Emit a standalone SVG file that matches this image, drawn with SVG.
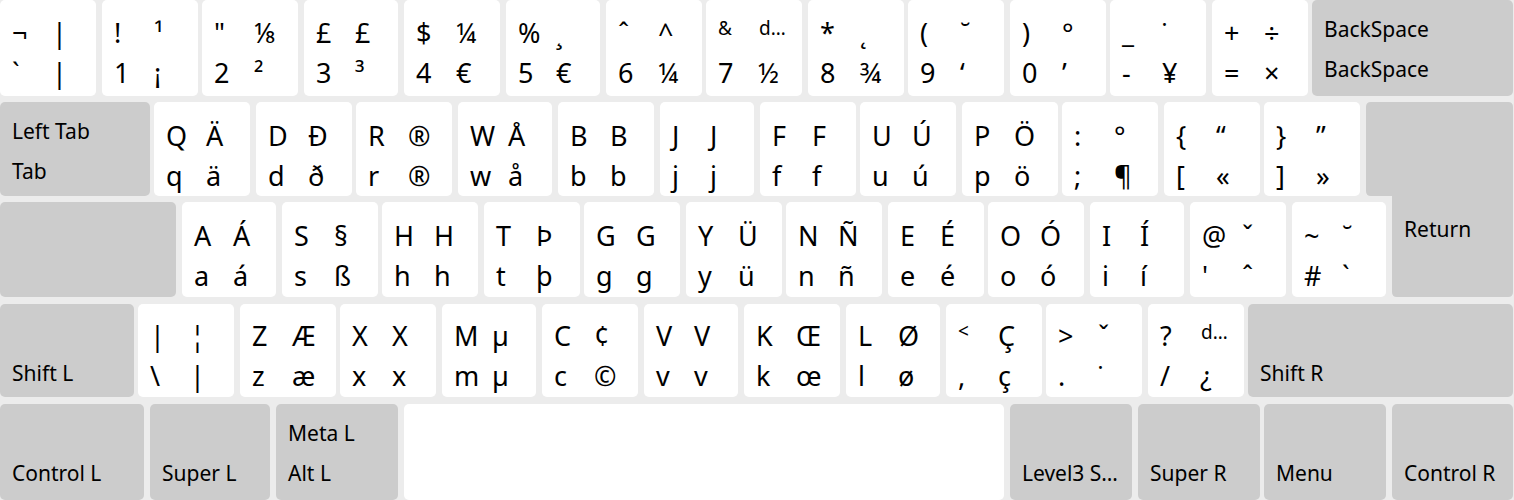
<svg xmlns="http://www.w3.org/2000/svg" width="1514" height="500" viewBox="0 0 1514 500">
<style>
.bg{fill:#ececec}
.k{fill:#ffffff}
.m{fill:#cccccc}
text{font-family:"Noto Sans","DejaVu Sans",sans-serif;fill:#000}
.t{font-size:27px}
.l{font-size:21px}
.s{font-size:19px}
</style>
<rect class="bg" x="0" y="0" width="1514" height="500"/>
<!-- Row 1 -->
<g id="k-grave"><rect class="k" x="0" y="0" width="96" height="96" rx="5"/><text class="t" x="12" y="43">¬</text><text class="t" x="52" y="43">|</text><text class="t" x="12" y="83">`</text><text class="t" x="52" y="83">|</text></g>
<g id="k-1"><rect class="k" x="102" y="0" width="96" height="96" rx="5"/><text class="t" x="114" y="43">!</text><text class="t" x="154" y="43">¹</text><text class="t" x="114" y="83">1</text><text class="t" x="154" y="83">¡</text></g>
<g id="k-2"><rect class="k" x="202" y="0" width="96" height="96" rx="5"/><text class="t" x="214" y="43">"</text><text class="t" x="254" y="43">⅛</text><text class="t" x="214" y="83">2</text><text class="t" x="254" y="83">²</text></g>
<g id="k-3"><rect class="k" x="304" y="0" width="94" height="96" rx="5"/><text class="t" x="316" y="43">£</text><text class="t" x="355" y="43">£</text><text class="t" x="316" y="83">3</text><text class="t" x="355" y="83">³</text></g>
<g id="k-4"><rect class="k" x="404" y="0" width="96" height="96" rx="5"/><text class="t" x="416" y="43">$</text><text class="t" x="456" y="43">¼</text><text class="t" x="416" y="83">4</text><text class="t" x="456" y="83">€</text></g>
<g id="k-5"><rect class="k" x="506" y="0" width="94" height="96" rx="5"/><text class="t" x="518" y="43">%</text><text class="t" x="556" y="43">¸</text><text class="t" x="518" y="83">5</text><text class="t" x="556" y="83">€</text></g>
<g id="k-6"><rect class="k" x="606" y="0" width="96" height="96" rx="5"/><text class="t" x="618" y="43">ˆ</text><text class="t" x="658" y="43">^</text><text class="t" x="618" y="83">6</text><text class="t" x="658" y="83">¼</text></g>
<g id="k-7"><rect class="k" x="706" y="0" width="96" height="96" rx="5"/><text class="s" x="718" y="35">&amp;</text><text class="s" x="759" y="35">d…</text><text class="t" x="718" y="83">7</text><text class="t" x="758" y="83">½</text></g>
<g id="k-8"><rect class="k" x="808" y="0" width="96" height="96" rx="5"/><text class="t" x="820" y="43">*</text><text class="t" x="860" y="43">˛</text><text class="t" x="820" y="83">8</text><text class="t" x="860" y="83">¾</text></g>
<g id="k-9"><rect class="k" x="908" y="0" width="96" height="96" rx="5"/><text class="t" x="920" y="43">(</text><text class="t" x="960" y="43">˘</text><text class="t" x="920" y="83">9</text><text class="t" x="960" y="83">‘</text></g>
<g id="k-0"><rect class="k" x="1010" y="0" width="96" height="96" rx="5"/><text class="t" x="1022" y="43">)</text><text class="t" x="1062" y="43">°</text><text class="t" x="1022" y="83">0</text><text class="t" x="1062" y="83">’</text></g>
<g id="k-minus"><rect class="k" x="1110" y="0" width="96" height="96" rx="5"/><text class="t" x="1122" y="43">_</text><text class="t" x="1162" y="43">˙</text><text class="t" x="1122" y="83">-</text><text class="t" x="1162" y="83">¥</text></g>
<g id="k-equal"><rect class="k" x="1212" y="0" width="96" height="96" rx="5"/><text class="t" x="1224" y="43">+</text><text class="t" x="1264" y="43">÷</text><text class="t" x="1224" y="83">=</text><text class="t" x="1264" y="83">×</text></g>
<g id="k-backspace"><rect class="m" x="1312" y="0" width="201" height="96" rx="5"/><text class="l" x="1324" y="37">BackSpace</text><text class="l" x="1324" y="77">BackSpace</text></g>
<!-- Row 2 -->
<g id="k-tab"><rect class="m" x="0" y="102" width="150" height="94" rx="5"/><text class="l" x="12" y="139">Left Tab</text><text class="l" x="12" y="179">Tab</text></g>
<g id="k-q"><rect class="k" x="154" y="102" width="96" height="94" rx="5"/><text class="t" x="166" y="146">Q</text><text class="t" x="206" y="146">Ä</text><text class="t" x="166" y="186">q</text><text class="t" x="206" y="186">ä</text></g>
<g id="k-w"><rect class="k" x="256" y="102" width="96" height="94" rx="5"/><text class="t" x="268" y="146">D</text><text class="t" x="308" y="146">Ð</text><text class="t" x="268" y="186">d</text><text class="t" x="308" y="186">ð</text></g>
<g id="k-e"><rect class="k" x="356" y="102" width="96" height="94" rx="5"/><text class="t" x="368" y="146">R</text><text class="t" x="408" y="146">®</text><text class="t" x="368" y="186">r</text><text class="t" x="408" y="186">®</text></g>
<g id="k-r"><rect class="k" x="458" y="102" width="94" height="94" rx="5"/><text class="t" x="470" y="146">W</text><text class="t" x="508" y="146">Å</text><text class="t" x="470" y="186">w</text><text class="t" x="508" y="186">å</text></g>
<g id="k-t"><rect class="k" x="558" y="102" width="96" height="94" rx="5"/><text class="t" x="570" y="146">B</text><text class="t" x="610" y="146">B</text><text class="t" x="570" y="186">b</text><text class="t" x="610" y="186">b</text></g>
<g id="k-y"><rect class="k" x="660" y="102" width="94" height="94" rx="5"/><text class="t" x="672" y="146">J</text><text class="t" x="710" y="146">J</text><text class="t" x="672" y="186">j</text><text class="t" x="710" y="186">j</text></g>
<g id="k-u"><rect class="k" x="760" y="102" width="96" height="94" rx="5"/><text class="t" x="772" y="146">F</text><text class="t" x="812" y="146">F</text><text class="t" x="772" y="186">f</text><text class="t" x="812" y="186">f</text></g>
<g id="k-i"><rect class="k" x="860" y="102" width="96" height="94" rx="5"/><text class="t" x="872" y="146">U</text><text class="t" x="912" y="146">Ú</text><text class="t" x="872" y="186">u</text><text class="t" x="912" y="186">ú</text></g>
<g id="k-o"><rect class="k" x="962" y="102" width="96" height="94" rx="5"/><text class="t" x="974" y="146">P</text><text class="t" x="1014" y="146">Ö</text><text class="t" x="974" y="186">p</text><text class="t" x="1014" y="186">ö</text></g>
<g id="k-p"><rect class="k" x="1062" y="102" width="96" height="94" rx="5"/><text class="t" x="1074" y="146">:</text><text class="t" x="1114" y="146">°</text><text class="t" x="1074" y="186">;</text><text class="t" x="1114" y="186">¶</text></g>
<g id="k-lbracket"><rect class="k" x="1164" y="102" width="96" height="94" rx="5"/><text class="t" x="1176" y="146">{</text><text class="t" x="1216" y="146">“</text><text class="t" x="1176" y="186">[</text><text class="t" x="1216" y="186">«</text></g>
<g id="k-rbracket"><rect class="k" x="1264" y="102" width="96" height="94" rx="5"/><text class="t" x="1276" y="146">}</text><text class="t" x="1316" y="146">”</text><text class="t" x="1276" y="186">]</text><text class="t" x="1316" y="186">»</text></g>
<g id="k-return"><path class="m" d="M1371,102 H1508 Q1513,102 1513,107 V292 Q1513,297 1508,297 H1397 Q1392,297 1392,292 V196 H1371 Q1366,196 1366,191 V107 Q1366,102 1371,102 Z"/><text class="l" x="1404" y="237">Return</text></g>
<!-- Row 3 -->
<g id="k-caps"><rect class="m" x="0" y="202" width="176" height="95" rx="5"/></g>
<g id="k-a"><rect class="k" x="182" y="202" width="94" height="95" rx="5"/><text class="t" x="194" y="246">A</text><text class="t" x="233" y="246">Á</text><text class="t" x="194" y="286">a</text><text class="t" x="233" y="286">á</text></g>
<g id="k-s"><rect class="k" x="282" y="202" width="96" height="95" rx="5"/><text class="t" x="294" y="246">S</text><text class="t" x="334" y="246">§</text><text class="t" x="294" y="286">s</text><text class="t" x="334" y="286">ß</text></g>
<g id="k-d"><rect class="k" x="382" y="202" width="96" height="95" rx="5"/><text class="t" x="394" y="246">H</text><text class="t" x="434" y="246">H</text><text class="t" x="394" y="286">h</text><text class="t" x="434" y="286">h</text></g>
<g id="k-f"><rect class="k" x="484" y="202" width="96" height="95" rx="5"/><text class="t" x="496" y="246">T</text><text class="t" x="536" y="246">Þ</text><text class="t" x="496" y="286">t</text><text class="t" x="536" y="286">þ</text></g>
<g id="k-g"><rect class="k" x="584" y="202" width="96" height="95" rx="5"/><text class="t" x="596" y="246">G</text><text class="t" x="636" y="246">G</text><text class="t" x="596" y="286">g</text><text class="t" x="636" y="286">g</text></g>
<g id="k-h"><rect class="k" x="686" y="202" width="96" height="95" rx="5"/><text class="t" x="698" y="246">Y</text><text class="t" x="738" y="246">Ü</text><text class="t" x="698" y="286">y</text><text class="t" x="738" y="286">ü</text></g>
<g id="k-j"><rect class="k" x="786" y="202" width="96" height="95" rx="5"/><text class="t" x="798" y="246">N</text><text class="t" x="838" y="246">Ñ</text><text class="t" x="798" y="286">n</text><text class="t" x="838" y="286">ñ</text></g>
<g id="k-k"><rect class="k" x="888" y="202" width="96" height="95" rx="5"/><text class="t" x="900" y="246">E</text><text class="t" x="940" y="246">É</text><text class="t" x="900" y="286">e</text><text class="t" x="940" y="286">é</text></g>
<g id="k-l"><rect class="k" x="988" y="202" width="96" height="95" rx="5"/><text class="t" x="1000" y="246">O</text><text class="t" x="1040" y="246">Ó</text><text class="t" x="1000" y="286">o</text><text class="t" x="1040" y="286">ó</text></g>
<g id="k-semicolon"><rect class="k" x="1090" y="202" width="94" height="95" rx="5"/><text class="t" x="1102" y="246">I</text><text class="t" x="1140" y="246">Í</text><text class="t" x="1102" y="286">i</text><text class="t" x="1140" y="286">í</text></g>
<g id="k-apostrophe"><rect class="k" x="1190" y="202" width="96" height="95" rx="5"/><text class="t" x="1202" y="246">@</text><text class="t" x="1242" y="246">ˇ</text><text class="t" x="1202" y="286">'</text><text class="t" x="1242" y="286">ˆ</text></g>
<g id="k-hash"><rect class="k" x="1292" y="202" width="94" height="95" rx="5"/><text class="t" x="1304" y="246">~</text><text class="t" x="1342" y="246">˘</text><text class="t" x="1304" y="286">#</text><text class="t" x="1342" y="286">`</text></g>
<!-- Row 4 -->
<g id="k-lshift"><rect class="m" x="0" y="304" width="134" height="93" rx="5"/><text class="l" x="12" y="381">Shift L</text></g>
<g id="k-lsgt"><rect class="k" x="138" y="304" width="96" height="93" rx="5"/><text class="t" x="150" y="346">|</text><text class="t" x="190" y="346">¦</text><text class="t" x="150" y="386">\</text><text class="t" x="190" y="386">|</text></g>
<g id="k-z"><rect class="k" x="240" y="304" width="96" height="93" rx="5"/><text class="t" x="252" y="346">Z</text><text class="t" x="292" y="346">Æ</text><text class="t" x="252" y="386">z</text><text class="t" x="292" y="386">æ</text></g>
<g id="k-x"><rect class="k" x="340" y="304" width="96" height="93" rx="5"/><text class="t" x="352" y="346">X</text><text class="t" x="392" y="346">X</text><text class="t" x="352" y="386">x</text><text class="t" x="392" y="386">x</text></g>
<g id="k-c"><rect class="k" x="442" y="304" width="94" height="93" rx="5"/><text class="t" x="454" y="346">M</text><text class="t" x="492" y="346">µ</text><text class="t" x="454" y="386">m</text><text class="t" x="492" y="386">µ</text></g>
<g id="k-v"><rect class="k" x="542" y="304" width="96" height="93" rx="5"/><text class="t" x="554" y="346">C</text><text class="t" x="594" y="346">¢</text><text class="t" x="554" y="386">c</text><text class="t" x="594" y="386">©</text></g>
<g id="k-b"><rect class="k" x="644" y="304" width="94" height="93" rx="5"/><text class="t" x="656" y="346">V</text><text class="t" x="694" y="346">V</text><text class="t" x="656" y="386">v</text><text class="t" x="694" y="386">v</text></g>
<g id="k-n"><rect class="k" x="744" y="304" width="96" height="93" rx="5"/><text class="t" x="756" y="346">K</text><text class="t" x="796" y="346">Œ</text><text class="t" x="756" y="386">k</text><text class="t" x="796" y="386">œ</text></g>
<g id="k-m"><rect class="k" x="846" y="304" width="94" height="93" rx="5"/><text class="t" x="858" y="346">L</text><text class="t" x="898" y="346">Ø</text><text class="t" x="858" y="386">l</text><text class="t" x="898" y="386">ø</text></g>
<g id="k-comma"><rect class="k" x="946" y="304" width="96" height="93" rx="5"/><text class="s" x="958" y="338">&lt;</text><text class="t" x="998" y="346">Ç</text><text class="t" x="958" y="386">,</text><text class="t" x="998" y="386">ç</text></g>
<g id="k-period"><rect class="k" x="1046" y="304" width="96" height="93" rx="5"/><text class="t" x="1058" y="346">&gt;</text><text class="t" x="1098" y="346">ˇ</text><text class="t" x="1058" y="386">.</text><text class="t" x="1098" y="386">˙</text></g>
<g id="k-slash"><rect class="k" x="1148" y="304" width="96" height="93" rx="5"/><text class="t" x="1160" y="346">?</text><text class="s" x="1201" y="339">d…</text><text class="t" x="1160" y="386">/</text><text class="t" x="1200" y="386">¿</text></g>
<g id="k-rshift"><rect class="m" x="1248" y="304" width="265" height="93" rx="5"/><text class="l" x="1260" y="381">Shift R</text></g>
<!-- Row 5 -->
<g id="k-lctrl"><rect class="m" x="0" y="404" width="144" height="96" rx="5"/><text class="l" x="12" y="481">Control L</text></g>
<g id="k-lsuper"><rect class="m" x="150" y="404" width="120" height="96" rx="5"/><text class="l" x="162" y="481">Super L</text></g>
<g id="k-lalt"><rect class="m" x="276" y="404" width="122" height="96" rx="5"/><text class="l" x="288" y="441">Meta L</text><text class="l" x="288" y="481">Alt L</text></g>
<g id="k-space"><rect class="k" x="404" y="404" width="600" height="96" rx="5"/></g>
<g id="k-ralt"><rect class="m" x="1010" y="404" width="122" height="96" rx="5"/><text class="l" x="1022" y="481">Level3 S…</text></g>
<g id="k-rsuper"><rect class="m" x="1138" y="404" width="122" height="96" rx="5"/><text class="l" x="1150" y="481">Super R</text></g>
<g id="k-menu"><rect class="m" x="1264" y="404" width="122" height="96" rx="5"/><text class="l" x="1276" y="481">Menu</text></g>
<g id="k-rctrl"><rect class="m" x="1392" y="404" width="121" height="96" rx="5"/><text class="l" x="1404" y="481">Control R</text></g>
<g id="connectors"/>
</svg>
